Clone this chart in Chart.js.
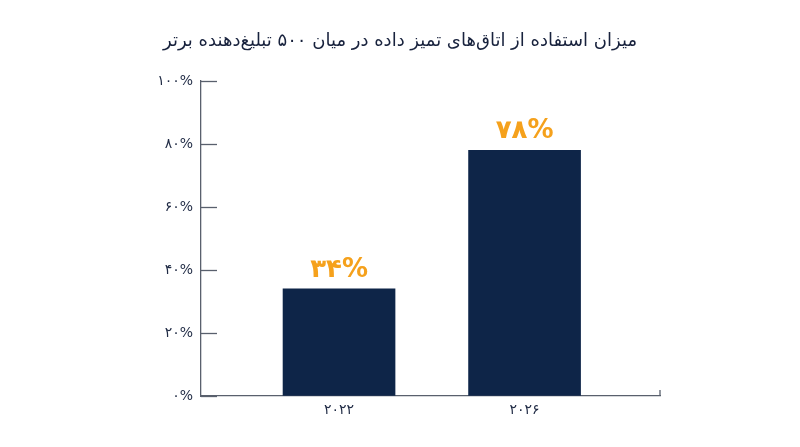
<!DOCTYPE html>
<html>
<head>
<meta charset="utf-8">
<script src="https://cdn.jsdelivr.net/npm/chart.js@4"></script>
<style>
  html, body { margin: 0; padding: 0; background: #fff; }
  #wrap { width: 800px; height: 447px; }
</style>
</head>
<body>
<div id="wrap"><canvas id="usageChart"></canvas></div>
<script>
// Data
const title = 'میزان استفاده از اتاق\u200Cهای تمیز داده در میان ۵۰۰ تبلیغ\u200Cدهنده برتر';
const years = ['2022', '2026'];
const usage = [34, 78]; // percent
const yTicks = [0, 20, 40, 60, 80, 100];

const FONT = "'DejaVu Sans', 'Noto Sans', sans-serif";
const NAVY = '#0e2548';
const ORANGE = '#f5a11c';
const AXIS = '#59606d';

// Persian digits
function toFa(s) {
  return String(s).replace(/[0-9]/g, d => '۰۱۲۳۴۵۶۷۸۹'[d]);
}

// value labels above bars + short inner tick marks
const extras = {
  id: 'extras',
  afterDatasetsDraw(chart) {
    const ctx = chart.ctx;
    const meta = chart.getDatasetMeta(0);
    ctx.save();
    ctx.fillStyle = ORANGE;
    ctx.font = 'bold 26px ' + FONT;
    ctx.textAlign = 'center';
    ctx.textBaseline = 'middle';
    meta.data.forEach((bar, i) => {
      ctx.fillText(toFa(usage[i]) + '%', bar.x, bar.y - 19);
    });
    ctx.restore();
  },
  afterDraw(chart) {
    const ctx = chart.ctx;
    const y = chart.scales.y;
    const area = chart.chartArea;
    ctx.save();
    ctx.strokeStyle = AXIS;
    ctx.lineWidth = 1.3;
    yTicks.forEach(v => {
      const py = Math.round(y.getPixelForValue(v)) + 0.5;
      ctx.beginPath();
      ctx.moveTo(area.left, py);
      ctx.lineTo(area.left + 16, py);
      ctx.stroke();
    });
    // small upward tick at the right end of the x axis
    ctx.beginPath();
    ctx.moveTo(area.right, area.bottom);
    ctx.lineTo(area.right, area.bottom - 6);
    ctx.stroke();
    ctx.restore();
  }
};

const ctx = document.getElementById('usageChart').getContext('2d');
const usageChart = new Chart(ctx, {
  type: 'bar',
  data: {
    datasets: [{
      data: usage.map((v, i) => ({ x: i, y: v })),
      backgroundColor: NAVY,
      borderWidth: 0,
      barThickness: 112,
    }],
  },
  options: {
    responsive: true,
    maintainAspectRatio: false,
    animation: false,
    layout: { padding: { left: 0, right: 0, top: 0, bottom: 21 } },
    scales: {
      x: {
        type: 'linear',
        offset: false,
        min: -0.744,
        max: 1.73,
        afterBuildTicks: s => { s.ticks = years.map((_, i) => ({ value: i })); },
        afterFit: s => { s.height = 30; },
        ticks: {
          callback: v => toFa(years[v]),
          color: '#1f2a44',
          font: { family: FONT, size: 14 },
          padding: 6,
        },
        grid: { offset: false, drawOnChartArea: false, drawTicks: false },
        border: { display: true, color: AXIS, width: 1.3 },
      },
      y: {
        min: 0,
        max: 100,
        afterBuildTicks: s => { s.ticks = yTicks.map(v => ({ value: v })); },
        afterFit: s => { s.width = 201; },
        ticks: {
          callback: v => toFa(v) + '%',
          color: '#1f2a44',
          font: { family: FONT, size: 14 },
          padding: 8,
        },
        grid: { drawOnChartArea: false, drawTicks: false },
        border: { display: true, color: AXIS, width: 1.3 },
      },
      // empty right-hand spacer so the title stays centred on the canvas
      yRight: {
        position: 'right',
        afterFit: s => { s.width = 140; },
        ticks: { display: false },
        grid: { display: false },
        border: { display: false },
      },
    },
    plugins: {
      legend: { display: false },
      tooltip: { enabled: false },
      title: {
        display: true,
        text: title,
        color: '#18223d',
        font: { family: FONT, size: 18, weight: 'normal', lineHeight: 1.2 },
        padding: { top: 31, bottom: 28.4 },
      },
    },
  },
  plugins: [extras],
});
</script>
</body>
</html>
